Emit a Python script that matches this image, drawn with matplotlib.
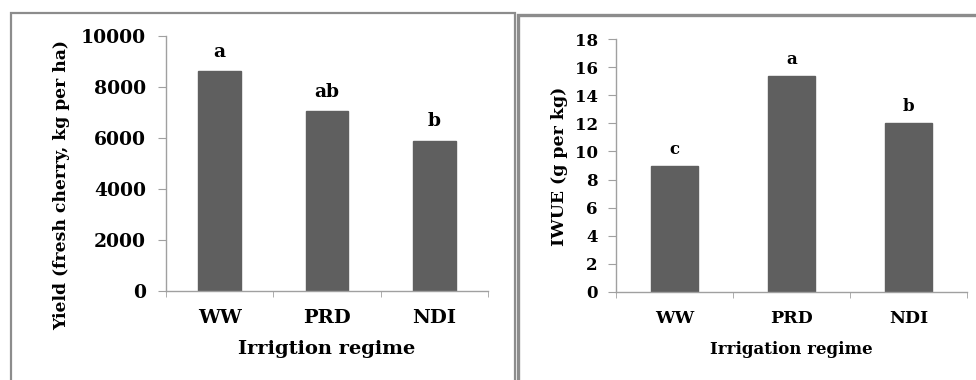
import matplotlib.pyplot as plt
from matplotlib.patches import Rectangle

# data
regimes = ['WW', 'PRD', 'NDI']
yield_vals = [8620, 7050, 5900]
yield_letters = ['a', 'ab', 'b']
iwue_vals = [9.0, 15.4, 12.0]
iwue_letters = ['c', 'a', 'b']

W, H = 976, 380
plt.rcParams['font.family'] = ['DejaVu Serif']
plt.rcParams['font.weight'] = 'bold'

fig = plt.figure(figsize=(W / 100, H / 100), dpi=100)

bar_color = '#5f5f5f'
axis_color = '#a0a0a0'
frame_color = '#8c8c8c'


def px_axes(x0, y0, x1, y1):
    # pixel box (left, top, right, bottom) -> figure fractions
    return fig.add_axes([x0 / W, 1 - y1 / H, (x1 - x0) / W, (y1 - y0) / H])


def frame(x0, y0, x1, y1, lw):
    r = Rectangle((x0 / W, 1 - y1 / H), (x1 - x0) / W, (y1 - y0) / H,
                  transform=fig.transFigure, fill=False,
                  edgecolor=frame_color, lw=lw, zorder=0)
    fig.add_artist(r)


def bar_panel(ax, values, letters, ymax, ystep, ylabel, xlabel,
              fs_tick, fs_x, fs_ylab, fs_xlab, fs_let, offset, ypad):
    x = range(len(regimes))
    ax.bar(x, values, width=0.4, color=bar_color, edgecolor=bar_color, zorder=2)
    for xi, v, s in zip(x, values, letters):
        ax.text(xi, v + offset, s, ha='center', va='baseline',
                fontsize=fs_let, fontweight='bold')
    ax.set_xlim(-0.5, 2.5)
    ax.set_ylim(0, ymax)
    ax.set_yticks(range(0, ymax + 1, ystep))
    ax.set_xticks(list(x))
    ax.set_xticklabels(regimes, fontsize=fs_x, fontweight='bold')
    ax.set_xticks([-0.5, 0.5, 1.5, 2.5], minor=True)
    ax.tick_params(axis='x', which='major', length=0, pad=13)
    ax.tick_params(axis='x', which='minor', length=4, color=axis_color, direction='out')
    ax.tick_params(axis='y', length=6, color=axis_color, pad=ypad, labelsize=fs_tick)
    for lbl in ax.get_yticklabels():
        lbl.set_fontweight('bold')
    for sp in ['top', 'right']:
        ax.spines[sp].set_visible(False)
    for sp in ['left', 'bottom']:
        ax.spines[sp].set_color(axis_color)
        ax.spines[sp].set_linewidth(1.0)
    ax.set_ylabel(ylabel, fontsize=fs_ylab, fontweight='bold')
    ax.set_xlabel(xlabel, fontsize=fs_xlab, fontweight='bold')


# panel frames
frame(11, 13, 515, 395, 1.6)
frame(518, 15, 990, 395, 2.4)

ax1 = px_axes(166, 36, 488, 291)
bar_panel(ax1, yield_vals, yield_letters, 10000, 2000,
          'Yield (fresh cherry, kg per ha)', 'Irrigtion regime',
          13.5, 14, 12.3, 14, 13.5, 560, 8.5)
ax1.yaxis.set_label_coords(-0.298, 0.415)
ax1.xaxis.set_label_coords(0.5, -0.192)

ax2 = px_axes(616, 39, 967, 292)
bar_panel(ax2, iwue_vals, iwue_letters, 18, 2,
          'IWUE (g per kg)', 'Irrigation regime',
          12, 12.5, 12.5, 12, 12, 0.85, 7)
ax2.yaxis.set_label_coords(-0.137, 0.496)
ax2.xaxis.set_label_coords(0.5, -0.193)

fig.savefig('out.png', dpi=100)
